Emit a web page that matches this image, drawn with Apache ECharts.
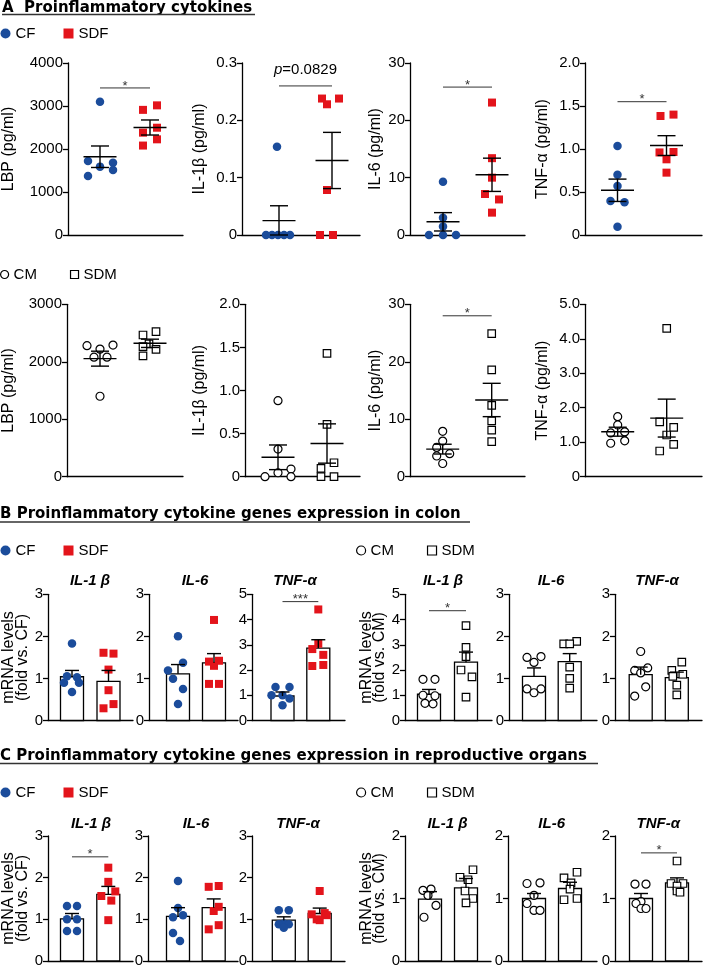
<!DOCTYPE html>
<html>
<head>
<meta charset="utf-8">
<title>Proinflammatory cytokines</title>
<script src="https://cdn.jsdelivr.net/npm/echarts@6.0.0/dist/echarts.min.js"></script>
<style>
html, body { margin: 0; padding: 0; background: #fff; }
#main { width: 704px; height: 967px; }
</style>
</head>
<body>
<div id="main"></div>
<script type="text/javascript">
// ---------- values ----------
// A: serum cytokines
var serumNames = ['LBP (pg/ml)', 'IL-1β (pg/ml)', 'IL-6 (pg/ml)', 'TNF-α (pg/ml)'];
var serumMaxF = [4000, 0.3, 30, 2.0], serumStepF = [1000, 0.1, 10, 0.5];
var serumMaxM = [3000, 2.0, 30, 5.0], serumStepM = [1000, 0.5, 10, 1.0];
var serumDigits = [0, 1, 0, 1];

var serumCF = [
    [3100, 1720, 1680, 1590, 1510, 1370],
    [0.154, 0, 0, 0, 0, 0],
    [9.3, 3.0, 1.5, 0, 0, 0],
    [1.035, 0.70, 0.57, 0.395, 0.38, 0.097]
];
var serumCFMean = [1820, 0.025, 2.3, 0.52];
var serumCFSem = [250, 0.026, 1.6, 0.13];
var serumSDF = [
    [3015, 2910, 2495, 2380, 2225, 2080],
    [0.238, 0.238, 0.228, 0.0785, 0, 0],
    [23.1, 13.4, 10.0, 7.15, 6.2, 3.9],
    [1.40, 1.384, 0.965, 0.96, 0.88, 0.725]
];
var serumSDFMean = [2500, 0.130, 10.5, 1.04];
var serumSDFSem = [175, 0.049, 2.9, 0.115];

var serumCM = [
    [2290, 2280, 2220, 2080, 2080, 1400],
    [0.882, 0.321, 0.089, 0.046, 0, 0],
    [7.9, 6.2, 5.1, 4.0, 3.6, 2.3],
    [1.74, 1.50, 1.30, 1.27, 1.04, 0.97]
];
var serumCMMean = [2054, 0.225, 4.8, 1.305];
var serumCMSem = [130, 0.143, 0.85, 0.13];
var serumSDM = [
    [2523, 2466, 2309, 2262, 2217, 2101],
    [1.43, 0.608, 0.162, 0.097, 0, 0],
    [24.9, 18.6, 12.4, 9.7, 8.1, 6.1],
    [4.30, 1.59, 1.43, 1.21, 0.94, 0.745]
];
var serumSDMMean = [2321, 0.385, 13.35, 1.70];
var serumSDMSem = [72, 0.228, 2.9, 0.55];

var serumSigF = [[3420, '*'], [0.26, '{i|p}=0.0829'], [25.8, '*'], [1.55, '*']];
var serumSigM = [null, null, [28, '*'], null];

// B: colon mRNA, C: reproductive organs mRNA
var geneNames = ['IL-1 β', 'IL-6', 'TNF-α'];

var colonMaxF = [3, 3, 5], colonMaxM = [5, 3, 3];
var colonCF = [[1.83, 1.05, 1.03, 0.90, 0.90, 0.68], [2.0, 1.37, 1.19, 0.99, 0.75, 0.39], [1.33, 1.33, 1.0, 1.0, 0.87, 0.6]];
var colonCFMean = [1.04, 1.11, 0.97], colonCFSem = [0.15, 0.22, 0.16];
var colonSDF = [[1.61, 1.59, 1.21, 0.72, 0.39, 0.29], [2.39, 1.42, 1.40, 1.30, 0.87, 0.87], [4.4, 3.04, 2.83, 2.6, 2.2, 2.16]];
var colonSDFMean = [0.93, 1.37, 2.87], colonSDFSem = [0.26, 0.22, 0.33];
var colonCM = [[1.63, 1.63, 1.0, 0.98, 0.68, 0.66], [1.50, 1.38, 1.52, 0.75, 0.66, 0.75], [1.64, 1.25, 1.19, 1.13, 0.80, 0.58]];
var colonCMMean = [1.04, 1.05, 1.09], colonCMSem = [0.19, 0.2, 0.18];
var colonSDM = [[3.76, 2.9, 2.53, 2.0, 1.73, 0.93], [1.88, 1.82, 1.82, 1.27, 1.0, 0.77], [1.39, 1.19, 1.10, 1.05, 0.84, 0.61]];
var colonSDMMean = [2.31, 1.40, 1.02], colonSDMSem = [0.40, 0.19, 0.13];
var colonSigF = [null, null, [4.71, '***']];
var colonSigM = [[4.35, '*'], null, null];

var reproMaxF = [3, 3, 3], reproMaxM = [2, 2, 2];
var reproCF = [[1.32, 1.32, 1.0, 1.0, 0.72, 0.72], [1.92, 1.27, 1.10, 1.05, 0.67, 0.48], [1.22, 1.22, 0.90, 0.88, 0.88, 0.80]];
var reproCFMean = [1.01, 1.07, 0.98], reproCFSem = [0.13, 0.21, 0.08];
var reproSDF = [[2.24, 1.90, 1.67, 1.56, 1.45, 0.98], [1.80, 1.78, 1.30, 1.20, 0.86, 0.76], [1.68, 1.15, 1.12, 1.10, 1.0, 0.98]];
var reproSDFMean = [1.60, 1.28, 1.14], reproSDFSem = [0.19, 0.21, 0.13];
var reproCM = [[1.15, 1.13, 1.05, 0.89, 0.70], [1.25, 1.24, 1.05, 0.92, 0.81, 0.81], [1.23, 1.23, 0.95, 0.92, 0.84, 0.84]];
var reproCMMean = [0.99, 1.0, 1.0], reproCMSem = [0.12, 0.08, 0.08];
var reproSDM = [[1.46, 1.34, 1.30, 1.12, 1.0, 0.93], [1.42, 1.33, 1.25, 1.15, 1.0, 0.98], [1.60, 1.24, 1.24, 1.20, 1.12, 1.10]];
var reproSDMMean = [1.17, 1.16, 1.25], reproSDMSem = [0.15, 0.10, 0.08];
var reproSigF = [[2.5, '*'], null, null];
var reproSigM = [null, null, [1.73, '*']];

// ---------- layout / style (pixels) ----------
// horizontal jitter of the dots, px
var jitSerumCF = [[0, -12, 13, 0, 13, -12], [-2, -13, -7, -1, 5, 11], [0, 0, 0, -14, 0, 13], [0, 0, 0, -7, 7, 0]];
var jitSerumSDF = [[7, -7, 7, -7, 7, -7], [-10, 7, -5, -5, -12, 1], [0, 0, 0, -7, 7, 0], [7, -6, 7, -7, 0, 0]];
var jitSerumCM = [[13, -13, 0, -6, 7, 0], [0, 0, 13, 0, -13, 13], [0, 0, -6, 7, -6, 0], [0, 0, 7, -7, 7, -7]];
var jitSerumSDM = [[6, -7, -1, -7, 6, -7], [0, 0, 7, -6, -6, 7], [0, 0, 0, 0, 0, 0], [0, -7, 7, 0, 7, -7]];
var jitColonCF = [[0, -5, 5, -8, 7, 0], [0, 5, -10, -5, 5, 0], [-7, 7, -11, 0, 7, 0]];
var jitColonSDF = [[-5, 5, 0, 0, 5, -5], [0, 5, -5, 0, -5, 5], [0, 0, -6, 5, 5, -6]];
var jitColonCM = [[-6, 6, -6, 6, -4, 4], [-7, 0, 7, -7, 0, 7], [0, 7, -6, 0, 5, -6]];
var jitColonSDM = [[0, 0, 0, -5, 6, 0], [7, -6, 0, 0, 0, 0], [5, -5, 6, -4, 0, 0]];
var jitReproCF = [[-5, 5, -5, 5, -5, 5], [0, 0, 5, -5, -5, 2], [-5, 5, 0, -5, 5, 0]];
var jitReproSDF = [[0, 0, 7, -7, 3, 0], [5, -5, 5, 0, 5, -5], [0, 5, -8, 7, -3, 0]];
var jitReproCM = [[1, -7, -2, 6, -6], [6, -7, 0, -7, 0, 6], [-6, 5, 0, -5, 0, 5]];
var jitReproSDM = [[7, -6, 2, -1, 7, 0], [7, -6, 1, 0, 7, -6], [0, -6, 6, 0, 0, 3]];

// [axis left, axis right, centre of group 1, centre of group 2]
var layA1 = [[68, 183, 100, 150], [242, 360, 279, 332], [410, 525, 443, 492], [585, 702, 617.5, 666.5]];
var layA2 = [[67, 183, 100, 150], [245, 360, 278, 327], [410, 525, 442.7, 491.7], [585, 702, 617.7, 666.7]];
var layBL = [[48, 133, 72, 108.5], [149, 238, 178, 214], [252, 345, 282.5, 318.3]];
var layBR = [[405, 492, 429, 466], [509, 597, 534, 569.7], [615, 702, 640.7, 676.8]];
var layCL = [[48, 133, 72, 108.3], [148, 238, 178, 213.7], [252, 345, 283.8, 319.7]];
var layCR = [[405, 491, 430, 466], [508, 597, 534, 570], [615, 702, 641, 677]];

var FONT = '"Liberation Sans", Arial, sans-serif';
var BLUE = '#1b4c9b', RED = '#e3141b';
var marks = {
    CF: { symbol: 'circle', size: 8.5, itemStyle: { color: BLUE, opacity: 1 } },
    SDF: { symbol: 'rect', size: 8, itemStyle: { color: RED, opacity: 1 } },
    CM: { symbol: 'circle', size: 8, itemStyle: { color: '#fff', borderColor: '#000', borderWidth: 1.2, opacity: 1 } },
    SDM: { symbol: 'rect', size: 7.5, itemStyle: { color: '#fff', borderColor: '#000', borderWidth: 1.2, opacity: 1 } }
};

var option = {
    animation: false,
    backgroundColor: '#fff',
    legend: [], grid: [], xAxis: [], yAxis: [], series: [], graphic: []
};

function meanSemItem(params, api) {
    var x = api.value(0), m = api.value(1), s = api.value(2);
    var pm = api.coord([x, m]), pt = api.coord([x, m + s]), pb = api.coord([x, Math.max(0, m - s)]);
    var ls = { stroke: '#000', lineWidth: 1.4 };
    return { type: 'group', children: [
        { type: 'line', shape: { x1: pm[0] - 16.5, y1: pm[1], x2: pm[0] + 16.5, y2: pm[1] }, style: ls },
        { type: 'line', shape: { x1: pt[0], y1: pt[1], x2: pb[0], y2: pb[1] }, style: ls },
        { type: 'line', shape: { x1: pt[0] - 9, y1: pt[1], x2: pt[0] + 9, y2: pt[1] }, style: ls },
        { type: 'line', shape: { x1: pb[0] - 9, y1: pb[1], x2: pb[0] + 9, y2: pb[1] }, style: ls }
    ] };
}

function barItem(params, api) {
    var x = api.value(0), m = api.value(1);
    var p = api.coord([x, m]), p0 = api.coord([x, 0]);
    return { type: 'rect', shape: { x: p[0] - 11.5, y: p[1], width: 23, height: p0[1] - p[1] },
        style: { fill: '#fff', stroke: '#000', lineWidth: 1.3 } };
}

function errItem(params, api) {
    var x = api.value(0), m = api.value(1), s = api.value(2);
    var p = api.coord([x, m]), pt = api.coord([x, m + s]);
    var ls = { stroke: '#000', lineWidth: 1.4 };
    return { type: 'group', children: [
        { type: 'line', shape: { x1: p[0], y1: p[1], x2: pt[0], y2: pt[1] }, style: ls },
        { type: 'line', shape: { x1: pt[0] - 7, y1: pt[1], x2: pt[0] + 7, y2: pt[1] }, style: ls }
    ] };
}

function sigItem(label) {
    var isP = label.indexOf('{i|') === 0;
    return function (params, api) {
        var a = api.coord([api.value(0), api.value(2)]), b = api.coord([api.value(1), api.value(2)]);
        return { type: 'group', children: [
            { type: 'line', shape: { x1: a[0], y1: a[1], x2: b[0], y2: b[1] }, style: { stroke: '#333', lineWidth: 1 } },
            { type: 'text', style: {
                text: label, x: (a[0] + b[0]) / 2, y: isP ? a[1] - 16 : a[1] - 2,
                align: 'center', verticalAlign: 'middle',
                fontFamily: FONT, fontSize: isP ? 15 : 13, fill: isP ? '#000' : '#333',
                rich: { i: { fontStyle: 'italic', fontFamily: FONT, fontSize: 15, fill: '#000', color: '#000' } }
            } }
        ] };
    };
}

function buildBlock(b) {
    for (var i = 0; i < b.layout.length; i++) {
        var L = b.layout[i], gi = option.grid.length, d = L[3] - L[2], dig = b.digits ? b.digits[i] : 0;
        option.grid.push({ left: L[0], top: b.top, width: L[1] - L[0], height: b.bottom - b.top,
            containLabel: false, outerBoundsMode: 'none' });
        option.xAxis.push({ gridIndex: gi, type: 'value', min: -(L[2] - L[0]) / d, max: 1 + (L[1] - L[3]) / d,
            axisLine: { onZero: false, lineStyle: { color: '#000', width: 1.3 } },
            axisTick: { show: false }, axisLabel: { show: false }, splitLine: { show: false } });
        option.yAxis.push({ gridIndex: gi, type: 'value', min: 0, max: b.max[i], interval: b.step ? b.step[i] : 1,
            name: b.names[i] || '', nameLocation: 'middle', nameRotate: 90, nameGap: b.gaps[i] || 0,
            nameTextStyle: { fontFamily: FONT, fontSize: 16, lineHeight: b.lineHeight || 18, color: '#000' },
            axisLine: { show: true, onZero: false, lineStyle: { color: '#000', width: 1.3 } },
            axisTick: { show: true, length: 5, lineStyle: { color: '#000', width: 1.3 } },
            axisLabel: { margin: 5, fontFamily: FONT, fontSize: 15, color: '#000',
                formatter: (function (dg) { return function (v) { return v === 0 ? '0' : v.toFixed(dg); }; })(dig) },
            splitLine: { show: false } });

        var summary = [];
        b.groups.forEach(function (g, gx) {
            var mk = marks[g.key], jit = g.jitter[i];
            option.series.push({ type: 'scatter', name: g.key, xAxisIndex: gi, yAxisIndex: gi, z: 3, silent: true,
                symbol: mk.symbol, symbolSize: mk.size, itemStyle: mk.itemStyle,
                data: g.values[i].map(function (v, k) { return { value: [gx, v], symbolOffset: [jit[k], 0] }; }) });
            summary.push([gx, g.mean[i], g.sem[i]]);
        });
        if (b.kind === 'dot') {
            option.series.push({ type: 'custom', xAxisIndex: gi, yAxisIndex: gi, z: 4, silent: true,
                renderItem: meanSemItem, data: summary });
        } else {
            option.series.push({ type: 'custom', xAxisIndex: gi, yAxisIndex: gi, z: 1, silent: true,
                renderItem: barItem, data: summary });
            option.series.push({ type: 'custom', xAxisIndex: gi, yAxisIndex: gi, z: 4, silent: true,
                renderItem: errItem, data: summary });
        }
        if (b.sig[i]) {
            option.series.push({ type: 'custom', xAxisIndex: gi, yAxisIndex: gi, z: 5, silent: true,
                renderItem: sigItem(b.sig[i][1]), data: [[0, 1, b.sig[i][0]]] });
        }
    }
}

buildBlock({ kind: 'dot', layout: layA1, top: 63, bottom: 235, max: serumMaxF, step: serumStepF, digits: serumDigits,
    names: serumNames, gaps: [50, 33, 25, 33], sig: serumSigF,
    groups: [
        { key: 'CF', values: serumCF, mean: serumCFMean, sem: serumCFSem, jitter: jitSerumCF },
        { key: 'SDF', values: serumSDF, mean: serumSDFMean, sem: serumSDFSem, jitter: jitSerumSDF }
    ] });
buildBlock({ kind: 'dot', layout: layA2, top: 304.3, bottom: 476.7, max: serumMaxM, step: serumStepM, digits: serumDigits,
    names: serumNames, gaps: [49, 36, 25, 33], sig: serumSigM,
    groups: [
        { key: 'CM', values: serumCM, mean: serumCMMean, sem: serumCMSem, jitter: jitSerumCM },
        { key: 'SDM', values: serumSDM, mean: serumSDMMean, sem: serumSDMSem, jitter: jitSerumSDM }
    ] });
buildBlock({ kind: 'bar', layout: layBL, top: 594.3, bottom: 720.5, max: colonMaxF,
    names: ['mRNA levels\n(fold vs. CF)'], gaps: [17], lineHeight: 14.5, sig: colonSigF,
    groups: [
        { key: 'CF', values: colonCF, mean: colonCFMean, sem: colonCFSem, jitter: jitColonCF },
        { key: 'SDF', values: colonSDF, mean: colonSDFMean, sem: colonSDFSem, jitter: jitColonSDF }
    ] });
buildBlock({ kind: 'bar', layout: layBR, top: 594.3, bottom: 720.5, max: colonMaxM,
    names: ['mRNA levels\n(fold vs. CM)'], gaps: [19], lineHeight: 13, sig: colonSigM,
    groups: [
        { key: 'CM', values: colonCM, mean: colonCMMean, sem: colonCMSem, jitter: jitColonCM },
        { key: 'SDM', values: colonSDM, mean: colonSDMMean, sem: colonSDMSem, jitter: jitColonSDM }
    ] });
buildBlock({ kind: 'bar', layout: layCL, top: 836, bottom: 961, max: reproMaxF,
    names: ['mRNA levels\n(fold vs. CF)'], gaps: [17], lineHeight: 14.5, sig: reproSigF,
    groups: [
        { key: 'CF', values: reproCF, mean: reproCFMean, sem: reproCFSem, jitter: jitReproCF },
        { key: 'SDF', values: reproSDF, mean: reproSDFMean, sem: reproSDFSem, jitter: jitReproSDF }
    ] });
buildBlock({ kind: 'bar', layout: layCR, top: 836, bottom: 961, max: reproMaxM,
    names: ['mRNA levels\n(fold vs. CM)'], gaps: [19], lineHeight: 13, sig: reproSigM,
    groups: [
        { key: 'CM', values: reproCM, mean: reproCMMean, sem: reproCMSem, jitter: jitReproCM },
        { key: 'SDM', values: reproSDM, mean: reproSDMMean, sem: reproSDMSem, jitter: jitReproSDM }
    ] });

// legends
function addLegend(left, top, keys, size, gap) {
    option.legend.push({ left: left, top: top, padding: 0, itemGap: gap, itemWidth: size, itemHeight: size,
        selectedMode: false,
        textStyle: { fontFamily: FONT, fontSize: 15, color: '#000' },
        data: keys.map(function (k) {
            return { name: k, icon: marks[k].symbol, itemStyle: marks[k].itemStyle };
        }) });
}
addLegend(0.5, 26, ['CF', 'SDF'], 10, 28);
addLegend(0, 267, ['CM', 'SDM'], 8, 33);
addLegend(0.5, 543, ['CF', 'SDF'], 10, 28);
addLegend(356, 543, ['CM', 'SDM'], 9, 33);
addLegend(0.5, 785, ['CF', 'SDF'], 10, 28);
addLegend(356, 785, ['CM', 'SDM'], 9, 33);

// section headings and sub-plot titles
function addText(txt, x, y, font, align) {
    option.graphic.push({ type: 'text', x: x, y: y, silent: true,
        style: { text: txt, font: font, fill: '#000', align: align, textAlign: align,
            verticalAlign: 'middle', textVerticalAlign: 'middle' } });
}
function addRule(x1, x2, y) {
    option.graphic.push({ type: 'line', silent: true, shape: { x1: x1, y1: y, x2: x2, y2: y },
        style: { stroke: '#333', lineWidth: 1.3 } });
}
var headFont = 'bold 15px "DejaVu Sans", sans-serif';
addText('A  Proinflammatory cytokines', 2, 8, headFont, 'left');
addRule(2, 255, 14.5);
addText('B Proinflammatory cytokine genes expression in colon', 0, 514, headFont, 'left');
addRule(0, 470, 522);
addText('C Proinflammatory cytokine genes expression in reproductive organs', 0, 756, headFont, 'left');
addRule(0, 598, 763.5);

var subFont = 'italic bold 15px "Liberation Sans", Arial, sans-serif';
var subXB = [90, 195, 295, 443, 551, 657];
var subXC = [91, 196, 298, 447.5, 551.7, 658.3];
for (var t = 0; t < 6; t++) {
    addText(geneNames[t % 3], subXB[t], 581, subFont, 'center');
    addText(geneNames[t % 3], subXC[t], 824, subFont, 'center');
}

var myChart = echarts.init(document.getElementById('main'), null, { renderer: 'canvas' });
myChart.setOption(option);
</script>
</body>
</html>
